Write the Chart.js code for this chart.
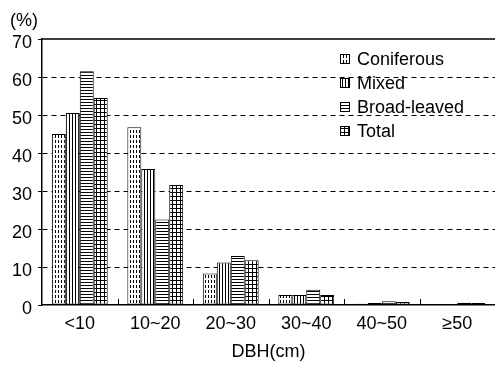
<!DOCTYPE html>
<html>
<head>
<meta charset="utf-8">
<script src="https://cdn.jsdelivr.net/npm/chart.js@4/dist/chart.umd.min.js"></script>
<style>
html,body{margin:0;padding:0;background:#fff;}
#wrap{width:495px;height:365px;position:relative;}
</style>
</head>
<body>
<div id="wrap"><canvas id="c" width="495" height="365"></canvas></div>
<script>
const categories = ['<10', '10~20', '20~30', '30~40', '40~50', '\u226550'];
const coniferous = [45.0, 46.8, 8.3, 2.6, 0.3, 0.0];
const mixed      = [50.5, 35.8, 11.2, 2.6, 0.5, 0.1];
const broadLeaved= [61.5, 22.5, 12.9, 4.0, 1.0, 0.6];
const total      = [54.5, 31.6, 11.8, 2.6, 0.8, 0.5];
const seriesNames = ['Coniferous', 'Mixed', 'Broad-leaved', 'Total'];
const yTicks = [0, 10, 20, 30, 40, 50, 60, 70];

function makePattern(w, h, draw) {
  const c = document.createElement('canvas');
  c.width = w; c.height = h;
  const x = c.getContext('2d');
  x.fillStyle = '#fff'; x.fillRect(0, 0, w, h);
  x.fillStyle = '#000';
  draw(x);
  return x.createPattern(c, 'repeat');
}
const patConif = makePattern(3, 5, x => { x.fillRect(1, 0, 1, 3); });
const patMixed = makePattern(3, 3, x => { x.fillRect(0, 0, 1, 3); });
const patBroad = makePattern(3, 3, x => { x.fillRect(0, 0, 3, 1); });
const patTotal = makePattern(4, 4, x => { x.fillRect(0, 0, 4, 1); x.fillRect(0, 0, 1, 4); });
const patterns = [patConif, patMixed, patBroad, patTotal];
const seriesData = [coniferous, mixed, broadLeaved, total];

const FONT = "'Liberation Sans', Arial, sans-serif";

const extras = {
  id: 'extras',
  afterDraw(chart) {
    const ctx = chart.ctx;
    const a = chart.chartArea;
    const xs = chart.scales.x;
    ctx.save();
    // top border
    ctx.strokeStyle = '#000';
    ctx.lineWidth = 1.5;
    ctx.beginPath();
    ctx.moveTo(a.left, a.top); ctx.lineTo(a.right, a.top);
    ctx.stroke();
    // inner ticks at category boundaries
    ctx.lineWidth = 1;
    for (let i = 1; i < categories.length; i++) {
      const xp = Math.round((xs.getPixelForValue(i - 1) + xs.getPixelForValue(i)) / 2) + 0.5;
      ctx.beginPath();
      ctx.moveTo(xp, a.bottom); ctx.lineTo(xp, a.bottom - 6);
      ctx.stroke();
    }
    // y unit
    ctx.fillStyle = '#000';
    ctx.font = '18px ' + FONT;
    ctx.textAlign = 'left';
    ctx.textBaseline = 'middle';
    ctx.fillText('(%)', 10, 21);
    // legend
    const lx = 340, ly0 = 59, step = 24;
    ctx.font = '18px ' + FONT;
    seriesNames.forEach((n, i) => {
      const y = ly0 + i * step;
      ctx.fillStyle = patterns[i];
      ctx.fillRect(lx, y - 5, 10, 10);
      ctx.strokeStyle = '#000';
      ctx.lineWidth = 1;
      ctx.strokeRect(lx + 0.5, y - 4.5, 9, 9);
      ctx.fillStyle = '#000';
      ctx.fillText(n, lx + 17, y + 1);
    });
    ctx.restore();
  }
};

new Chart(document.getElementById('c'), {
  type: 'bar',
  data: {
    labels: categories,
    datasets: seriesNames.map((n, i) => ({
      label: n,
      data: seriesData[i],
      backgroundColor: patterns[i],
      borderColor: '#000',
      borderWidth: 1,
      borderSkipped: false,
      categoryPercentage: 0.74,
      barPercentage: 1.0
    }))
  },
  options: {
    responsive: false,
    animation: false,
    devicePixelRatio: 1,
    layout: { padding: { top: 39, right: 0, left: 6, bottom: 0 } },
    plugins: {
      legend: { display: false },
      title: { display: false },
      tooltip: { enabled: false }
    },
    scales: {
      x: {
        grid: { display: false, drawTicks: false },
        border: { display: true, color: '#000', width: 1.5 },
        ticks: { color: '#000', font: { size: 18, family: FONT, lineHeight: 1.0 }, padding: 10, maxRotation: 0 },
        title: { display: true, text: 'DBH(cm)', color: '#000', font: { size: 18, family: FONT, lineHeight: 1.0 }, padding: { top: 0, bottom: 4 } }
      },
      y: {
        min: 0, max: 70,
        afterBuildTicks(scale) { scale.ticks = yTicks.map(v => ({ value: v })); },
        grid: {
          color: ctx => (ctx.tick && (ctx.tick.value === 0 || ctx.tick.value === 70)) ? 'rgba(0,0,0,0)' : '#000',
          lineWidth: 1,
          tickLength: 4,
          tickColor: '#000',
          drawTicks: true
        },
        border: { display: true, color: '#000', width: 1.5, dash: [5, 4] },
        ticks: { color: '#000', font: { size: 18, family: FONT }, padding: 6, labelOffset: 4 }
      }
    }
  },
  plugins: [extras]
});
</script>
</body>
</html>
